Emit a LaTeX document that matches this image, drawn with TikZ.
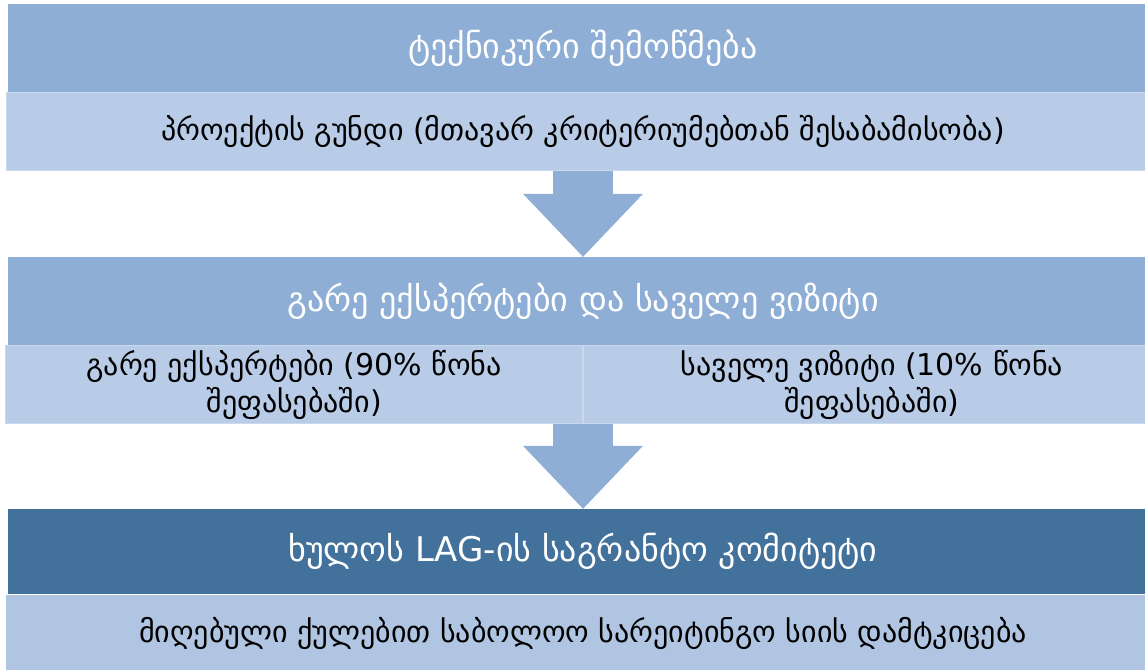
\documentclass[tikz,border=0pt]{standalone}
\usepackage{fontspec}
\setmainfont{DejaVu Sans}
\newfontfamily\geofont[Script=Georgian]{DejaVu Sans}
\usetikzlibrary{positioning,arrows.meta}

\definecolor{headlight}{RGB}{142,174,213}
\definecolor{headdark}{RGB}{66,113,156}
\definecolor{subfill}{RGB}{184,203,231}
\definecolor{subfilldark}{RGB}{176,197,225}

\tikzset{
    headbox/.style={fill=headlight, text=white, minimum width=1150pt,
        minimum height=88pt, inner sep=0pt, font=\geofont\fontsize{34}{40}\selectfont},
    subbox/.style={fill=subfill, draw=white!25!subfill, line width=0.8pt, text=black,
        minimum width=1154pt, minimum height=78pt, inner sep=0pt,
        font=\geofont\fontsize{30}{37}\selectfont},
    halfbox/.style={subbox, minimum width=577pt, align=center},
    flowarrow/.style={draw=headlight, line width=60pt,
        -{Triangle[width=120pt, length=63pt, line width=0pt]}}
}

\begin{document}
\begin{tikzpicture}[x=1pt, y=1pt]
    \useasboundingbox (0,0) rectangle (1145,-669);

    % technical check
    \node[headbox] (head1) at (583,-48) {ტექნიკური შემოწმება};
    \node[subbox, below=0pt of head1] (sub1) {პროექტის გუნდი (მთავარ კრიტერიუმებთან შესაბამისობა)};

    % experts and field visit
    \node[headbox] (head2) at (583,-301) {გარე ექსპერტები და საველე ვიზიტი};
    \node[halfbox, anchor=north east] (subL) at (head2.south) {გარე ექსპერტები (90\% წონა\\შეფასებაში)};
    \node[halfbox, anchor=north west] (subR) at (head2.south) {საველე ვიზიტი (10\% წონა\\შეფასებაში)};

    % grant committee
    \node[headbox, fill=headdark, minimum height=85pt] (head3) at (583,-551.5) {ხულოს LAG-ის საგრანტო კომიტეტი};
    \node[subbox, fill=subfilldark, draw=none, below=0pt of head3] (sub3) {მიღებული ქულებით საბოლოო სარეიტინგო სიის დამტკიცება};

    \draw[flowarrow] (sub1.south) -- (head2.north);
    \draw[flowarrow] (subL.south east) -- (head3.north);
\end{tikzpicture}
\end{document}
